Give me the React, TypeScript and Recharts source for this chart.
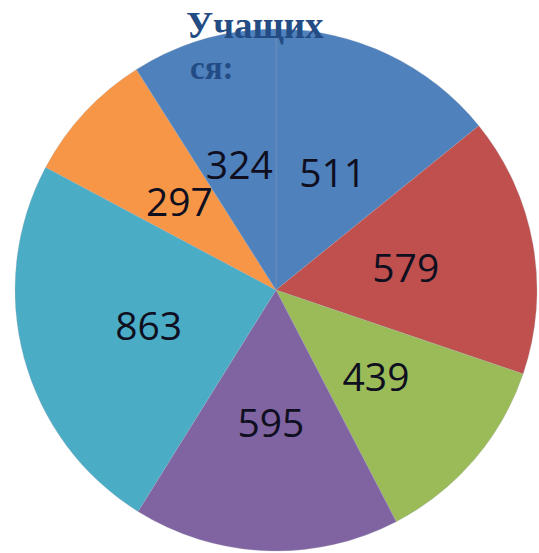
import React from "react";
import { PieChart, Pie, Cell } from "recharts";

const categories = ["1", "2", "3", "4", "5", "6", "7"];
const values = [511, 579, 439, 595, 863, 297, 324];
const colors = ["#4F81BD", "#C0504D", "#9BBB59", "#8064A2", "#4BACC6", "#F79646", "#4F81BD"];
const titleLines = ["Учащих", "ся:"];

const data = categories.map((c, i) => ({ name: c, value: values[i] }));

const RAD = Math.PI / 180;

const renderLabel = (props: any) => {
  const { cx, cy, midAngle, outerRadius, value } = props;
  const r = outerRadius * 0.505;
  const x = cx + r * Math.cos(-midAngle * RAD);
  const y = cy + r * Math.sin(-midAngle * RAD);
  return (
    <text
      x={x}
      y={y}
      fill="#0f0f1f"
      textAnchor="middle"
      dominantBaseline="central"
      fontFamily="'Open Sans', 'Noto Sans', sans-serif"
      fontSize={39}
    >
      {value}
    </text>
  );
};

export default function App() {
  return (
    <div style={{ position: "absolute", left: 0, top: 0, width: 539, height: 553, background: "#fff" }}>
      <PieChart width={539} height={553} margin={{ top: 0, right: 0, bottom: 0, left: 0 }}>
        <Pie
          data={data}
          dataKey="value"
          nameKey="name"
          cx={276}
          cy={290}
          outerRadius={261}
          startAngle={90}
          endAngle={-270}
          stroke="#a0a8b4"
          strokeOpacity={0.45}
          strokeWidth={0.6}
          label={renderLabel}
          labelLine={false}
          isAnimationActive={false}
        >
          {data.map((d, i) => (
            <Cell key={d.name + i} fill={colors[i]} />
          ))}
        </Pie>
      </PieChart>
      <div
        style={{
          position: "absolute",
          left: 186,
          top: 4,
          fontFamily: "'Liberation Serif', 'DejaVu Serif', serif",
          fontWeight: "bold",
          fontSize: 37,
          lineHeight: "43px",
          color: "#244C84",
          pointerEvents: "none",
        }}
      >
        <div>{titleLines[0]}</div>
        <div style={{ marginLeft: 4, fontSize: 33 }}>{titleLines[1]}</div>
      </div>
    </div>
  );
}
